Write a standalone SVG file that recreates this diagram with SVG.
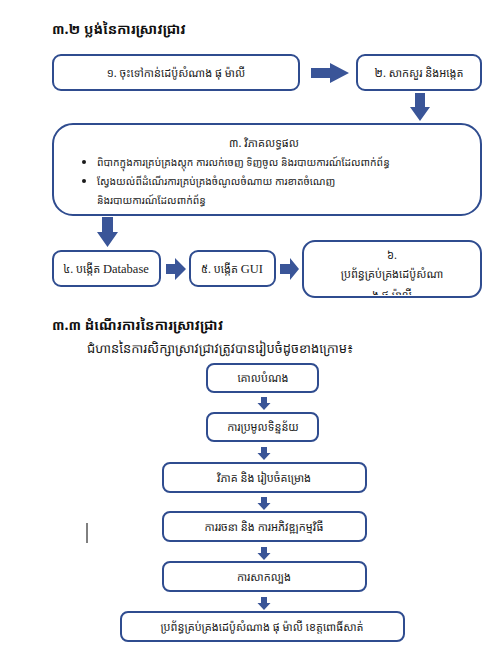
<svg xmlns="http://www.w3.org/2000/svg" width="497" height="657" viewBox="0 0 497 657">
<style>
.bg{fill:#ffffff}
.box{fill:#ffffff;stroke:#2F4C8F;stroke-width:2}
.arr{fill:#3A5598;stroke:none}
.t{font-family:"Noto Sans Khmer","Khmer OS","Noto Sans","DejaVu Sans",sans-serif;font-size:11px;fill:#1a1a1a;text-anchor:middle}
.l{text-anchor:start;font-size:10.3px}
.h{font-family:"Noto Sans Khmer","Khmer OS Muol Light","Noto Sans","DejaVu Sans",sans-serif;font-size:14px;font-weight:bold;fill:#111111}
.s{font-family:"Noto Sans Khmer","Khmer OS","Noto Sans","DejaVu Sans",sans-serif;font-size:13px;fill:#1a1a1a}
.lat{font-family:"Liberation Serif",serif;font-size:12.5px}
</style>
<defs>
<clipPath id="c6"><rect x="304" y="242" width="176" height="53" rx="11"/></clipPath>
</defs>
<rect class="bg" x="0" y="0" width="497" height="657"/>
<text class="h" x="52" y="34">៣.២ ប្លង់នៃការស្រាវជ្រាវ</text>
<text class="h" x="52" y="330">៣.៣ ដំណើរការនៃការស្រាវជ្រាវ</text>
<text class="s" x="87" y="353">ជំហាននៃការសិក្សាស្រាវជ្រាវត្រូវបានរៀបចំដូចខាងក្រោម៖</text>

<g id="connectors">
<polygon class="arr" points="311,68 330,68 330,63 349,73 330,83 330,78 311,78"/>
<polygon class="arr" points="415,93 425,93 425,107 430,107 420,121 410,107 415,107"/>
<polygon class="arr" points="102,217 113,217 113,232 118,232 107.5,247 97,232 102,232"/>
<polygon class="arr" points="166,264 175,264 175,258 186,269 175,280 175,274 166,274"/>
<polygon class="arr" points="280,264 290,264 290,258 299,269 290,280 290,274 280,274"/>
<polygon class="arr" points="261,397 267,397 267,403 270.5,403 264,410 257.5,403 261,403"/>
<polygon class="arr" points="261,447 267,447 267,453 270.5,453 264,460 257.5,453 261,453"/>
<polygon class="arr" points="261,497 267,497 267,503 270.5,503 264,510 257.5,503 261,503"/>
<polygon class="arr" points="261,547 267,547 267,553 270.5,553 264,560 257.5,553 261,553"/>
<polygon class="arr" points="261,597 267,597 267,603 270.5,603 264,610 257.5,603 261,603"/>
</g>

<g id="n1"><rect class="box" x="53" y="55" width="246" height="35" rx="8"/>
<text class="t" x="176" y="77">១. ចុះទៅកាន់ដេប៉ូសំណាង ផុ ម៉ាលី</text></g>
<g id="n2"><rect class="box" x="357" y="55" width="124" height="35" rx="8"/>
<text class="t" x="419" y="77">២. សាកសួរ និងអង្កេត</text></g>
<g id="n3"><rect class="box" x="53" y="124" width="428" height="91" rx="20"/>
<text class="t" x="264" y="147">៣. វិភាគលទ្ធផល</text>
<circle cx="84" cy="162" r="2" fill="#1a1a1a"/>
<circle cx="84" cy="181" r="2" fill="#1a1a1a"/>
<text class="t l" x="97" y="166">ពិបាកក្នុងការគ្រប់គ្រងស្តុក ការលក់ចេញ ទិញចូល និងរបាយការណ៍ដែលពាក់ព័ន្ធ</text>
<text class="t l" x="97" y="185">ស្វែងយល់ពីដំណើរការគ្រប់គ្រងចំណូលចំណាយ  ការខាតចំណេញ</text>
<text class="t l" x="97" y="204">និងរបាយការណ៍ដែលពាក់ព័ន្ធ</text></g>
<g id="n4"><rect class="box" x="53" y="251" width="107" height="35" rx="8"/>
<text class="t" x="106" y="273">៤. បង្កើត <tspan class="lat">Database</tspan></text></g>
<g id="n5"><rect class="box" x="190" y="251" width="85" height="35" rx="8"/>
<text class="t" x="232" y="273">៥. បង្កើត <tspan class="lat">GUI</tspan></text></g>
<g id="n6"><rect class="box" x="303" y="241" width="178" height="56" rx="12"/>
<g clip-path="url(#c6)">
<text class="t" x="392" y="259">៦.</text>
<text class="t" x="392" y="278">ប្រព័ន្ធគ្រប់គ្រងដេប៉ូសំណា</text>
<text class="t" x="392" y="299">ង ផុ ម៉ាលី</text>
</g></g>

<g id="s1"><rect class="box" x="207" y="364" width="111" height="28" rx="7"/>
<text class="t" x="263" y="382">គោលបំណង</text></g>
<g id="s2"><rect class="box" x="207" y="413" width="111" height="28" rx="7"/>
<text class="t" x="263" y="431">ការប្រមូលទិន្នន័យ</text></g>
<g id="s3"><rect class="box" x="163" y="463" width="203" height="29" rx="7"/>
<text class="t" x="264" y="482">វិភាគ  និង  រៀបចំគម្រោង</text></g>
<g id="s4"><rect class="box" x="163" y="512" width="203" height="29" rx="7"/>
<text class="t" x="264" y="531">ការរចនា  និង  ការអភិវឌ្ឍកម្មវិធី</text></g>
<g id="s5"><rect class="box" x="163" y="562" width="203" height="29" rx="7"/>
<text class="t" x="264" y="581">ការសាកល្បង</text></g>
<g id="s6"><rect class="box" x="121" y="612" width="283" height="29" rx="7"/>
<text class="t" x="262" y="631">ប្រព័ន្ធគ្រប់គ្រងដេប៉ូសំណាង  ផុ ម៉ាលី ខេត្តពោធិ៍សាត់</text></g>

<line x1="87" y1="523" x2="87" y2="543" stroke="#000000" stroke-width="1"/>
</svg>
